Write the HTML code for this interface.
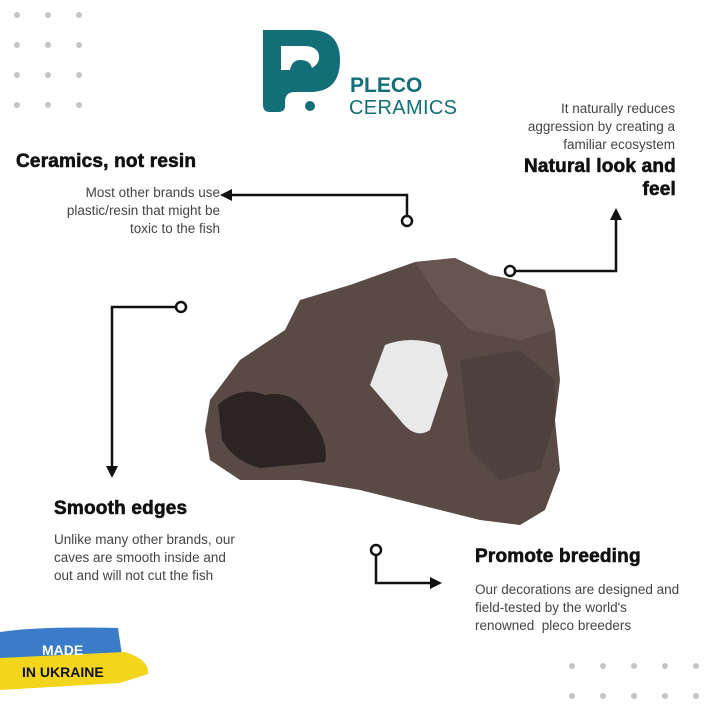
<!DOCTYPE html>
<html><head><meta charset="utf-8"><style>
body{margin:0;width:720px;height:720px;background:#fff;position:relative;overflow:hidden;font-family:"Liberation Sans",sans-serif}
.t{position:absolute;font-weight:bold;font-size:19px;color:#111;letter-spacing:0.2px;-webkit-text-stroke:0.6px #111;white-space:nowrap}
.b{position:absolute;font-size:13.5px;color:#444;line-height:18px;white-space:nowrap}
</style></head><body>
<svg width="720" height="720" style="position:absolute;left:0;top:0">
<g fill="#c4c4c4">
<circle cx="17" cy="15" r="3"/><circle cx="48" cy="15" r="3"/><circle cx="79" cy="15" r="3"/>
<circle cx="17" cy="45" r="3"/><circle cx="48" cy="45" r="3"/><circle cx="79" cy="45" r="3"/>
<circle cx="17" cy="75" r="3"/><circle cx="48" cy="75" r="3"/><circle cx="79" cy="75" r="3"/>
<circle cx="17" cy="105" r="3"/><circle cx="48" cy="105" r="3"/><circle cx="79" cy="105" r="3"/>
<circle cx="572" cy="666" r="3"/><circle cx="603" cy="666" r="3"/><circle cx="634" cy="666" r="3"/><circle cx="665" cy="666" r="3"/><circle cx="696" cy="666" r="3"/>
<circle cx="572" cy="696" r="3"/><circle cx="603" cy="696" r="3"/><circle cx="634" cy="696" r="3"/><circle cx="665" cy="696" r="3"/><circle cx="696" cy="696" r="3"/>
</g>
<g fill="#126f78">
<path fill-rule="evenodd" d="M263 30 H310 Q340 30 340 60 Q340 92 310 92 H295 Q285 92 285 102 V106 Q285 112 278 112 H270 Q263 112 263 105 Z M281 46 V70 H290 Q292 60 300 60 Q310 60 312 68 Q322 62 318 52 Q314 46 305 46 Z"/>
<circle cx="310" cy="106" r="5"/>
</g>
<text x="350" y="92" font-family="Liberation Sans" font-weight="bold" font-size="21" fill="#126f78">PLECO</text>
<text x="349" y="114" font-family="Liberation Sans" font-size="20" fill="#126f78" textLength="108">CERAMICS</text>
<path d="M210 400 L240 360 L285 330 L300 300 L350 285 L415 262 L455 258 L490 275 L515 280 L545 290 L555 330 L560 380 L555 420 L560 470 L545 510 L520 525 L480 520 L420 505 L360 490 L300 480 L240 480 L210 460 L205 430 Z" fill="#594a45"/>
<path d="M415 262 L455 258 L490 275 L515 280 L545 290 L555 330 L520 340 L470 330 L440 300 Z" fill="#665550"/>
<path d="M460 360 L520 350 L555 380 L555 420 L540 470 L500 480 L470 450 Z" fill="#4e403c"/>
<path d="M218 405 Q240 385 265 395 Q290 390 305 410 Q330 440 325 462 L260 468 Q235 462 222 440 Z" fill="#2c2422"/>
<path d="M385 345 Q410 335 440 345 L448 375 L430 430 Q415 440 400 420 L370 385 Z" fill="#e9e9e9"/>
<g stroke="#111" stroke-width="2.5" fill="none">
<polyline points="407,215 407,195 230,195"/>
<polyline points="175,307 112,307 112,468"/>
<polyline points="515,271 616,271 616,218"/>
<polyline points="376,555 376,583 432,583"/>
</g>
<g fill="#111">
<polygon points="220,195 232,189 232,201"/>
<polygon points="112,478 106,466 118,466"/>
<polygon points="616,208 610,220 622,220"/>
<polygon points="442,583 430,577 430,589"/>
</g>
<g fill="#fff" stroke="#111" stroke-width="2.5">
<circle cx="407" cy="221" r="5"/><circle cx="181" cy="307" r="5"/><circle cx="510" cy="271" r="5"/><circle cx="376" cy="550" r="5"/>
</g>
<path d="M0 632 Q40 626 118 628 L122 655 L0 660 Z" fill="#3b7cc9"/>
<path d="M0 658 L125 652 Q150 660 148 674 L120 683 L0 690 Z" fill="#f3d61b"/>
</svg>
<div class="t" style="left:16px;top:151px">Ceramics, not resin</div>
<div class="b" style="left:20px;top:184px;width:200px;text-align:right">Most other brands use<br>plastic/resin that might be<br>toxic to the fish</div>
<div class="b" style="left:475px;top:100px;width:200px;text-align:right">It naturally reduces<br>aggression by creating a<br>familiar ecosystem</div>
<div class="t" style="left:476px;top:155px;width:200px;text-align:right;line-height:23px">Natural look and<br>feel</div>
<div class="t" style="left:54px;top:498px">Smooth edges</div>
<div class="b" style="left:54px;top:531px">Unlike many other brands, our<br>caves are smooth inside and<br>out and will not cut the fish</div>
<div class="t" style="left:475px;top:546px">Promote breeding</div>
<div class="b" style="left:475px;top:581px">Our decorations are designed and<br>field-tested by the world's<br>renowned&nbsp; pleco breeders</div>
<div style="position:absolute;left:42px;top:642px;font-weight:bold;font-size:14px;color:#fff">MADE</div>
<div style="position:absolute;left:22px;top:664px;font-weight:bold;font-size:14px;color:#111">IN UKRAINE</div>
</body></html>
